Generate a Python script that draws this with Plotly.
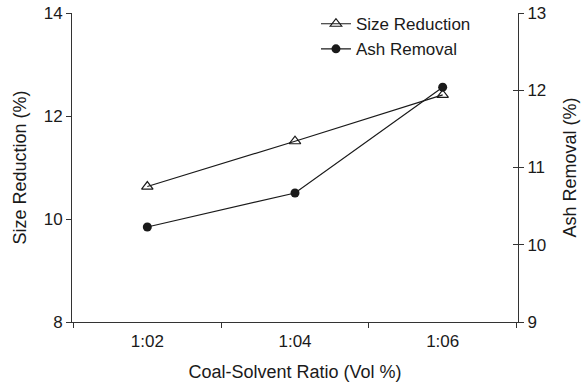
import plotly.graph_objects as go

# Coal-solvent ratio categories and measured responses
ratios = ["1:02", "1:04", "1:06"]
size_reduction = [10.63, 11.51, 12.41]   # %, left axis
ash_removal = [10.23, 10.67, 12.04]      # %, right axis

left_ticks = [8, 10, 12, 14]
right_ticks = [9, 10, 11, 12, 13]

FONT = "Liberation Sans, Arial, Helvetica, sans-serif"
INK = "#1a1a1a"
AXIS = "#333333"
TICK_SIZE = 17
TITLE_SIZE = 18

xpos = list(range(len(ratios)))

fig = go.Figure()
fig.add_trace(go.Scatter(
    x=xpos, y=size_reduction, name="Size Reduction",
    mode="lines+markers",
    line=dict(color=INK, width=1.2),
    marker=dict(symbol="triangle-up-open", size=10, color=INK, line=dict(width=1.2)),
    yaxis="y",
))
fig.add_trace(go.Scatter(
    x=xpos, y=ash_removal, name="Ash Removal",
    mode="lines+markers",
    line=dict(color=INK, width=1.2),
    marker=dict(symbol="circle", size=9, color=INK),
    yaxis="y2",
))

fig.update_layout(
    width=581, height=384,
    margin=dict(l=72, r=63, t=13, b=62, autoexpand=False),
    paper_bgcolor="white", plot_bgcolor="white",
    font=dict(family=FONT, size=TICK_SIZE, color=INK),
    showlegend=True,
    legend=dict(
        x=0.547, y=1.022, xanchor="left", yanchor="top",
        bgcolor="rgba(0,0,0,0)", font=dict(size=17, color=INK),
        tracegroupgap=0, itemwidth=30,
    ),
    xaxis=dict(
        range=[-0.51, 2.51],
        tickmode="array", tickvals=xpos, ticktext=ratios,
        ticks="", showline=True, linecolor=AXIS, linewidth=1,
        showgrid=False, zeroline=False, ticklabelstandoff=4,
        tickfont=dict(size=TICK_SIZE),
        title=dict(text="Coal-Solvent Ratio (Vol %)", font=dict(size=TITLE_SIZE), standoff=14),
    ),
    # separate axis carrying the minor ticks between categories
    xaxis2=dict(
        range=[-0.51, 2.51], overlaying="x", anchor="y",
        tickmode="array", tickvals=[-0.5, 0.5, 1.5, 2.5], ticktext=["", "", "", ""],
        ticks="outside", ticklen=5, tickcolor=AXIS, showline=False,
        showgrid=False, zeroline=False, side="bottom",
    ),
    yaxis=dict(
        range=[8, 14], tickvals=left_ticks,
        ticks="outside", ticklen=5, tickcolor=AXIS,
        showline=True, linecolor=AXIS, linewidth=1,
        showgrid=False, zeroline=False,
        tickfont=dict(size=TICK_SIZE),
        title=dict(text="Size Reduction (%)", font=dict(size=TITLE_SIZE), standoff=12),
    ),
    yaxis2=dict(
        range=[9, 13], tickvals=right_ticks,
        overlaying="y", side="right", anchor="x",
        ticks="outside", ticklen=5, tickcolor=AXIS,
        showline=True, linecolor=AXIS, linewidth=1,
        showgrid=False, zeroline=False,
        tickfont=dict(size=TICK_SIZE),
        title=dict(text="Ash Removal (%)", font=dict(size=TITLE_SIZE), standoff=18),
    ),
    # inner half of the crossing ticks on the right axis
    yaxis3=dict(
        range=[9, 13], tickvals=right_ticks, ticktext=[""] * len(right_ticks),
        overlaying="y", side="right", anchor="x",
        ticks="inside", ticklen=5, tickcolor=AXIS,
        showline=False, showgrid=False, zeroline=False,
    ),
)

# invisible traces that bind the helper axes
fig.add_trace(go.Scatter(x=[None], y=[None], xaxis="x2", yaxis="y3",
                         showlegend=False, hoverinfo="skip"))

fig.write_html("out.html")
